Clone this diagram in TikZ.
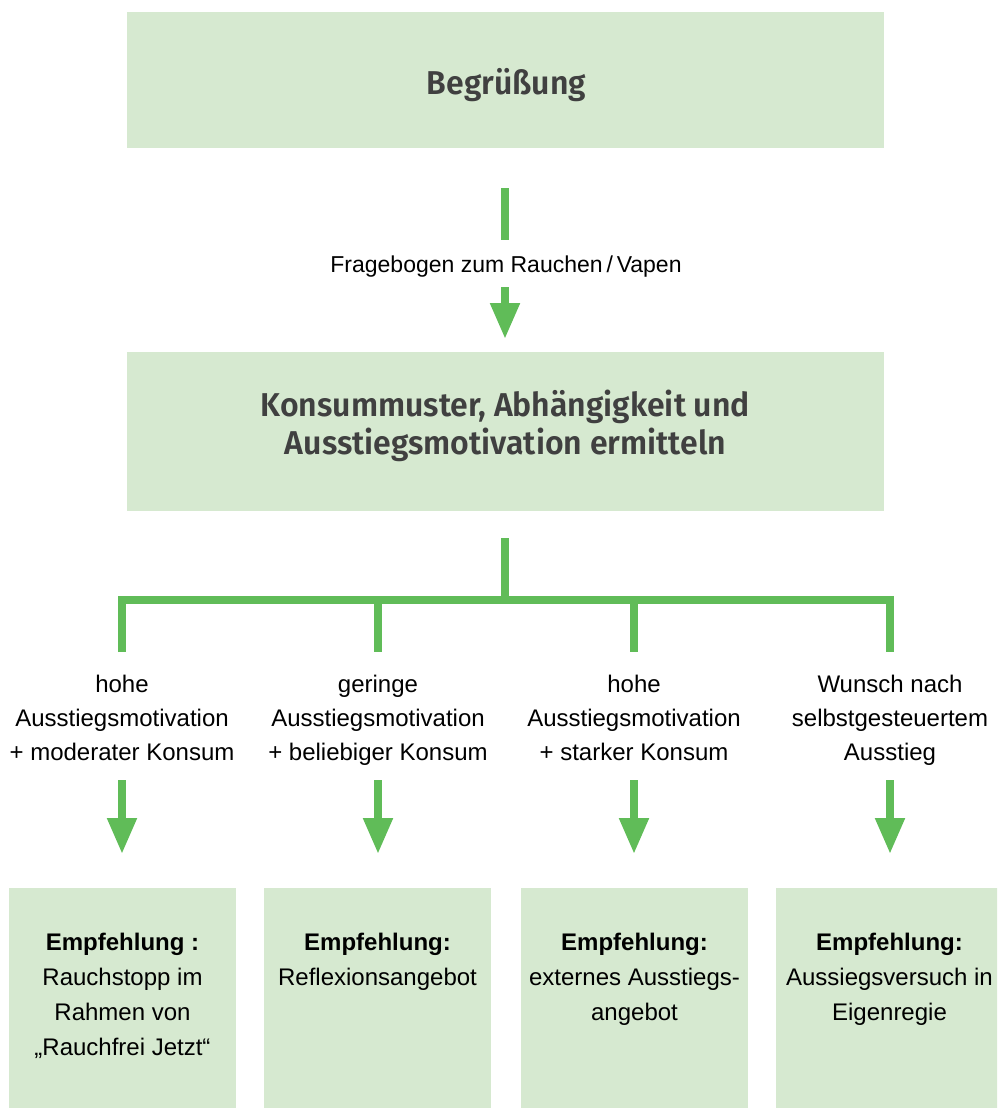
\documentclass[tikz,border=0pt]{standalone}
\usepackage{fontspec}
\setmainfont{Liberation Sans}
\newfontfamily\headfont{Fira Sans SemiBold}[FakeStretch=0.97]
\usetikzlibrary{arrows.meta}
\definecolor{boxfill}{RGB}{214,233,208}
\definecolor{arrgreen}{RGB}{96,188,88}
\definecolor{headtext}{RGB}{64,64,64}
\tikzset{
  greenbox/.style={fill=boxfill, draw=none, inner sep=0pt},
  headtxt/.style={text=headtext, align=center, inner sep=0pt,
    font={\headfont\fontsize{33}{38}\selectfont}},
  bodytxt/.style={text=black, align=center, inner sep=0pt,
    font={\fontsize{24}{34}\selectfont}},
  rectxt/.style={text=black, align=center, inner sep=0pt,
    font={\fontsize{24}{35}\selectfont}},
  conn/.style={draw=arrgreen, line width=8pt, line join=miter},
  arr/.style={conn, -{Triangle[width=28pt,length=36pt]}, fill=arrgreen},
}
\begin{document}
\begin{tikzpicture}[x=1pt,y=-1pt]
\useasboundingbox (0,0) rectangle (997,1108);
\clip (0,0) rectangle (997,1108);
% top boxes
\node[greenbox, minimum width=757pt, minimum height=136pt] (b1) at (505.5,80) {};
\node[headtxt, anchor=base] (h1) at (506.5,94) {Begrüßung};
\node[greenbox, minimum width=757pt, minimum height=159pt] (b2) at (505.5,431.5) {};
\node[headtxt, anchor=north] (h2) at (505.5,389.4) {\strut Konsummuster, Abhängigkeit und\\Ausstiegsmotivation ermitteln};
% first arrow with label
\coordinate (a1s) at (505,188);
\coordinate (a1e) at (505,240);
\coordinate (a1f) at (505,287);
\coordinate (a1t) at (505,339);
\node[anchor=base, inner sep=0pt, font={\fontsize{23}{28}\selectfont}] (q) at (506,272) {Fragebogen zum Rauchen\,/\,Vapen};
\draw[conn] (a1s) -- (a1e);
\draw[arr] (a1f) -- (a1t);
% branching
\coordinate (st) at (505,538);
\coordinate (sb) at (505,600);
\coordinate (j1) at (122,600);
\coordinate (j2) at (378,600);
\coordinate (j3) at (634,600);
\coordinate (j4) at (890,600);
\coordinate (d1) at (122,652);
\coordinate (d2) at (378,652);
\coordinate (d3) at (634,652);
\coordinate (d4) at (890,652);
\draw[conn] (d1) -- (j1) -- (j4) -- (d4);
\draw[conn] (st) -- (sb);
\draw[conn] (j2) -- (d2);
\draw[conn] (j3) -- (d3);
% labels
\node[bodytxt, anchor=north] (l1) at (122,668) {\strut hohe\\Ausstiegsmotivation\\+ moderater Konsum};
\node[bodytxt, anchor=north] (l2) at (378,668) {\strut geringe\\Ausstiegsmotivation\\+ beliebiger Konsum};
\node[bodytxt, anchor=north] (l3) at (634,668) {\strut hohe\\Ausstiegsmotivation\\+ starker Konsum};
\node[bodytxt, anchor=north] (l4) at (890,668) {\strut Wunsch nach\\selbstgesteuertem\\Ausstieg};
% lower arrows
\foreach \x/\n in {122/1,378/2,634/3,890/4}{
  \coordinate (u\n) at (\x,780);
  \coordinate (v\n) at (\x,854);
  \draw[arr] (u\n) -- (v\n);
}
% bottom boxes
\node[greenbox, minimum width=227pt, minimum height=220pt] (r1) at (122.5,998) {};
\node[greenbox, minimum width=227pt, minimum height=220pt] (r2) at (377.5,998) {};
\node[greenbox, minimum width=227pt, minimum height=220pt] (r3) at (634.5,998) {};
\node[greenbox, minimum width=227pt, minimum height=220pt] (r4) at (889.5,998) {};
\node[rectxt, anchor=north] (t1) at (122.5,925.5) {\strut\textbf{Empfehlung :}\\Rauchstopp im\\Rahmen von\\„Rauchfrei Jetzt“};
\node[rectxt, anchor=north] (t2) at (377.5,925.5) {\strut\textbf{Empfehlung:}\\Reflexionsangebot};
\node[rectxt, anchor=north] (t3) at (634.5,925.5) {\strut\textbf{Empfehlung:}\\externes Ausstiegs-\\angebot};
\node[rectxt, anchor=north] (t4) at (889.5,925.5) {\strut\textbf{Empfehlung:}\\Aussiegsversuch in\\Eigenregie};
\end{tikzpicture}
\end{document}
